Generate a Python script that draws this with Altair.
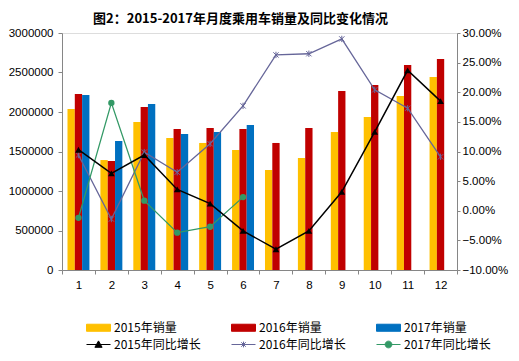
import altair as alt
import pandas as pd

# ---------------- data ----------------
months = list(range(1, 13))
sales_2015 = [2038000, 1392000, 1873000, 1671000, 1608000, 1519000,
              1266000, 1418000, 1747000, 1937000, 2203000, 2443000]
sales_2016 = [2228000, 1380000, 2063000, 1785000, 1797000, 1785000,
              1608000, 1797000, 2266000, 2342000, 2595000, 2671000]
sales_2017 = [2215000, 1633000, 2101000, 1722000, 1747000, 1835000]

growth_2015 = [10.3, 6.3, 9.4, 3.6, 1.2, -3.4, -6.5, -3.4, 3.2, 13.3, 23.7, 18.5]
growth_2016 = [9.4, -1.4, 9.9, 6.5, 11.3, 17.7, 26.3, 26.5, 29.0, 20.4, 17.3, 9.1]
growth_2017 = [-1.2, 18.2, 1.7, -3.7, -2.7, 2.3]

sales_names = ["2015年销量", "2016年销量", "2017年销量"]
growth_names = ["2015年同比增长", "2016年同比增长", "2017年同比增长"]
left_ticks = [0, 500000, 1000000, 1500000, 2000000, 2500000, 3000000]
right_ticks = [-10, -5, 0, 5, 10, 15, 20, 25, 30]
title_text = "图2：2015-2017年月度乘用车销量及同比变化情况"

# ---------------- styles ----------------
bar_colors = ["#FFC000", "#C00000", "#0070C0"]
line_colors = ["#000000", "#666699", "#339966"]
line_widths = [1.5, 1.3, 1.3]
axis_gray = "#868686"
tick_font = "Liberation Sans"
cjk_font = "Noto Sans CJK SC"

asterisk = "M-1,-1L1,1M-1,1L1,-1M0,-1.2V1.2"
marker_shapes = ["triangle-up", asterisk, "circle"]
marker_sizes = [45, 28, 40]
marker_filled = [True, False, True]

legend_paths = [
    "M-1.5,-0.44H1.5V0.44H-1.5Z",
    "M-1.5,-0.44H1.5V0.44H-1.5Z",
    "M-1.5,-0.44H1.5V0.44H-1.5Z",
    "M-1.5,0H1.5M0,-0.45L0.45,0.35H-0.45Z",
    "M-1.5,0H1.5M-0.28,-0.28L0.28,0.28M-0.28,0.28L0.28,-0.28M0,-0.36V0.36",
    "M-1.5,0H1.5M0.42,0A0.42,0.42,0,1,1,-0.42,0A0.42,0.42,0,1,1,0.42,0Z",
]

all_names = sales_names + growth_names
all_colors = bar_colors + line_colors

# ---------------- tables ----------------
bar_rows = []
for name, vals in zip(sales_names, [sales_2015, sales_2016, sales_2017]):
    for m, v in zip(months, vals):
        bar_rows.append({"month": m, "name": name, "value": v})
bars_df = pd.DataFrame(bar_rows)

line_rows = []
for name, vals in zip(growth_names, [growth_2015, growth_2016, growth_2017]):
    for m, v in zip(months, vals):
        line_rows.append({"month": m, "name": name, "pct": v})
lines_df = pd.DataFrame(line_rows)

legend_df = pd.DataFrame({"name": all_names})

# ---------------- encodings ----------------
x_enc = alt.X(
    "month:O",
    title=None,
    scale=alt.Scale(paddingInner=0, paddingOuter=0),
    axis=alt.Axis(
        labelAngle=0, tickBand="extent", domainColor=axis_gray, tickColor=axis_gray,
        tickSize=4, labelPadding=5, labelFont=tick_font, labelFontSize=11.5,
        labelColor="#000000", grid=False,
    ),
)

left_axis = alt.Axis(
    values=left_ticks, format="d", orient="left", grid=False,
    domainColor=axis_gray, tickColor=axis_gray, tickSize=4, labelPadding=5,
    labelFont=tick_font, labelFontSize=11.5, labelColor="#000000",
)
right_axis = alt.Axis(
    values=right_ticks, orient="right", grid=False,
    labelExpr="format(datum.value, '.2f') + '%'",
    domainColor=axis_gray, tickColor=axis_gray, tickSize=3, labelPadding=2,
    labelFont=tick_font, labelFontSize=11.5, labelColor="#000000",
)

bar_layers = []
for name, col in zip(sales_names, bar_colors):
    bar_layers.append(
        alt.Chart(bars_df).transform_filter(alt.datum.name == name).mark_bar(color=col).encode(
            x=x_enc,
            xOffset=alt.XOffset("name:N", scale=alt.Scale(domain=sales_names, paddingInner=0, paddingOuter=0.75)),
            y=alt.Y("value:Q", title=None, scale=alt.Scale(domain=[0, 3000000], nice=False), axis=left_axis),
        )
    )

y_right = alt.Y("pct:Q", title=None, scale=alt.Scale(domain=[-10, 30], nice=False), axis=right_axis)

line_layers = []
point_layers = []
for name, col, w, shp, sz, fl in zip(growth_names, line_colors, line_widths,
                                     marker_shapes, marker_sizes, marker_filled):
    base = alt.Chart(lines_df).transform_filter(alt.datum.name == name)
    line_layers.append(base.mark_line(color=col, strokeWidth=w).encode(x=x_enc, y=y_right))
    point_layers.append(
        base.mark_point(shape=shp, size=sz, filled=fl, color=col, strokeWidth=1, opacity=1).encode(
            x=x_enc, y=y_right
        )
    )

leg = alt.Legend(
    orient="none", legendX=28, legendY=286, columns=3, direction="horizontal",
    symbolSize=256, symbolStrokeWidth=1, labelFont=cjk_font, labelFontSize=12,
    labelColor="#000000", labelOffset=7, rowPadding=2, columnPadding=28, padding=0,
    labelLimit=200,
)
carrier = alt.Chart(legend_df).transform_filter("false").mark_point(filled=True, opacity=1).encode(
    fill=alt.Fill("name:N", title=None, scale=alt.Scale(domain=all_names, range=all_colors), legend=leg),
    stroke=alt.Stroke("name:N", title=None, scale=alt.Scale(domain=all_names, range=all_colors), legend=leg),
    shape=alt.Shape("name:N", title=None, scale=alt.Scale(domain=all_names, range=legend_paths), legend=leg),
)

left_layer = alt.layer(*bar_layers)
right_layer = alt.layer(line_layers[1], line_layers[2], line_layers[0],
                        point_layers[1], point_layers[2], point_layers[0], carrier)

chart = alt.layer(left_layer, right_layer).resolve_scale(y="independent").properties(
    width=395,
    height=237,
    autosize=alt.AutoSizeParams(type="none"),
    padding={"left": 54, "top": 25, "right": 54, "bottom": 83},
    title=alt.TitleParams(
        text=title_text, font=cjk_font, fontSize=13, fontWeight="bold",
        anchor="middle", dx=-19, offset=1, color="#000000",
    ),
).configure_view(strokeWidth=0).configure(background="#ffffff")

chart.save("out.html", embed_options={"renderer": "svg", "actions": False})
